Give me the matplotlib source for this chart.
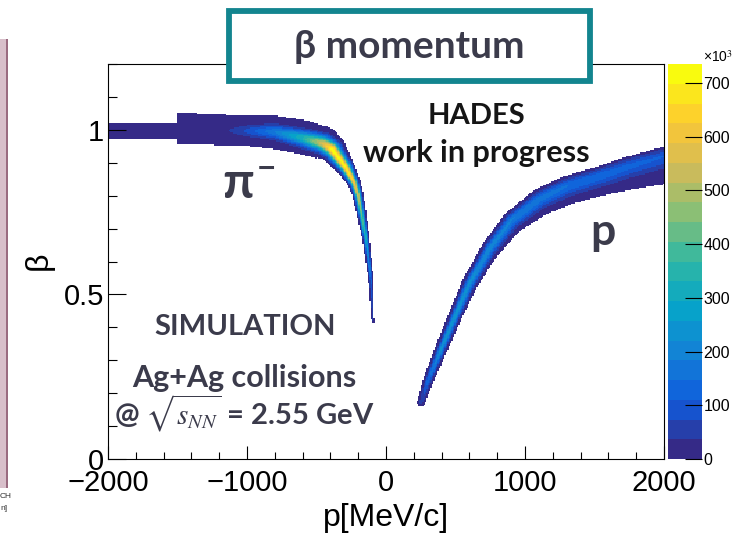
import numpy as np
import matplotlib.pyplot as plt
from matplotlib.colors import LinearSegmentedColormap, ListedColormap, BoundaryNorm
from matplotlib.patches import Rectangle

# ---- values ----
# p in MeV/c, beta, counts in units of 10^3
# pi- band, thin piece at large |p|
pim_tail_p = [-2000, -1500]
pim_tail_beta = [0.997, 0.997]
pim_tail_up = [0.024, 0.024]
pim_tail_down = [0.024, 0.024]
pim_tail_sig = [0.010, 0.010]
pim_tail_amp = [0, 0]

# pi- band, main piece
pim_p = [-1500, -1300, -1100, -1000, -800, -600, -450, -390, -290, -230, -200, -144, -108, -94]
pim_beta = [1.003, 1.001, 0.998, 0.997, 0.994, 0.975, 0.958, 0.942, 0.886, 0.841, 0.800, 0.668, 0.546, 0.415]
pim_up = [0.049, 0.048, 0.047, 0.046, 0.049, 0.055, 0.053, 0.045, 0.028, 0.020, 0.017, 0.011, 0.008, 0.004]
pim_down = [0.046, 0.046, 0.046, 0.046, 0.052, 0.049, 0.049, 0.040, 0.029, 0.020, 0.017, 0.011, 0.008, 0.004]
pim_sig = [0.012, 0.012, 0.012, 0.013, 0.014, 0.015, 0.015, 0.014, 0.010, 0.007, 0.006, 0.004, 0.003, 0.002]
pim_amp = [0, 0, 40, 80, 180, 330, 560, 720, 700, 620, 520, 300, 120, 30]

# proton band
prot_p = [252, 297, 394, 496, 602, 741, 900, 1100, 1300, 1532, 1750, 2000]
prot_beta = [0.171, 0.231, 0.332, 0.434, 0.536, 0.637, 0.725, 0.790, 0.830, 0.860, 0.890, 0.920]
prot_up = [0.012, 0.016, 0.019, 0.021, 0.023, 0.025, 0.027, 0.030, 0.030, 0.029, 0.029, 0.029]
prot_down = [0.012, 0.016, 0.019, 0.022, 0.026, 0.032, 0.042, 0.052, 0.057, 0.061, 0.072, 0.085]
prot_sig_up = [0.006, 0.006, 0.006, 0.007, 0.008, 0.009, 0.011, 0.012, 0.013, 0.013, 0.014, 0.014]
prot_sig_down = [0.006, 0.006, 0.007, 0.008, 0.010, 0.012, 0.015, 0.018, 0.020, 0.021, 0.022, 0.024]
prot_amp = [40, 120, 230, 240, 225, 205, 185, 165, 145, 130, 118, 108]

cbar_ticks = [0, 100, 200, 300, 400, 500, 600, 700]
z_max = 735
n_levels = 20

# ROOT kBird palette stops
bird_r = [0.2082, 0.0592, 0.0780, 0.0232, 0.1802, 0.5301, 0.8186, 0.9956, 0.9764]
bird_g = [0.1664, 0.3599, 0.5041, 0.6419, 0.7178, 0.7492, 0.7328, 0.7862, 0.9832]
bird_b = [0.5293, 0.8684, 0.8385, 0.7914, 0.6425, 0.4662, 0.3499, 0.1968, 0.0539]

# ---- layout ----
W, H = 740, 535
ax_box = [108, 64, 556, 395]  # left, top, width, height in px
P_MIN, P_MAX, B_MIN, B_MAX = -2000, 2000, 0.0, 1.2
kx = ax_box[2] / (P_MAX - P_MIN)
ky = ax_box[3] / (B_MAX - B_MIN)
PED = 3.0


def band(pp, bb, rp, rb, up, down, sig_up, sig_down, amp, round_start=True, round_end=True):
    X = (pp - P_MIN) * kx
    Y = bb * ky
    rx = (np.array(rp) - P_MIN) * kx
    ry = np.array(rb) * ky
    n = len(rx)
    best = np.full(X.shape, np.inf)
    bi = np.zeros(X.shape, dtype=int)
    bt = np.zeros(X.shape)
    bside = np.zeros(X.shape, dtype=bool)
    for i in range(n - 1):
        dx, dy = rx[i + 1] - rx[i], ry[i + 1] - ry[i]
        t = ((X - rx[i]) * dx + (Y - ry[i]) * dy) / (dx * dx + dy * dy)
        tc = np.clip(t, 0, 1)
        d = np.hypot(X - rx[i] - tc * dx, Y - ry[i] - tc * dy)
        if i == 0 and not round_start:
            d = np.where(t < 0, np.inf, d)
        if i == n - 2 and not round_end:
            d = np.where(t > 1, np.inf, d)
        side = dx * (Y - ry[i]) - dy * (X - rx[i]) >= 0
        m = d < best
        best[m] = d[m]
        bi[m] = i
        bt[m] = tc[m]
        bside[m] = side[m]

    def along(arr, scale=1.0):
        a = np.array(arr, dtype=float) * scale
        return a[bi] + bt * (a[bi + 1] - a[bi])

    w = np.where(bside, along(up, ky), along(down, ky))
    s = np.where(bside, along(sig_up, ky), along(sig_down, ky))
    a = along(amp)
    return np.where(best <= w, PED + a * np.exp(-0.5 * (best / s) ** 2), 0.0)


p_edges = np.linspace(P_MIN, P_MAX, 401)
b_edges = np.linspace(B_MIN, B_MAX, 301)
pc, bc = np.meshgrid(0.5 * (p_edges[1:] + p_edges[:-1]), 0.5 * (b_edges[1:] + b_edges[:-1]))

z = band(pc, bc, pim_tail_p, pim_tail_beta, pim_tail_up, pim_tail_down,
         pim_tail_sig, pim_tail_sig, pim_tail_amp, False, False)
z = np.maximum(z, band(pc, bc, pim_p, pim_beta, pim_up, pim_down,
                       pim_sig, pim_sig, pim_amp, False, True))
z = np.maximum(z, band(pc, bc, prot_p, prot_beta, prot_up, prot_down,
                       prot_sig_up, prot_sig_down, prot_amp, True, True))
z = np.ma.masked_less_equal(np.minimum(z, z_max - 1), 0)

bird = LinearSegmentedColormap.from_list(
    'bird', list(zip(np.linspace(0, 1, 9), zip(bird_r, bird_g, bird_b))))
cmap = ListedColormap([bird(i / (n_levels - 1)) for i in range(n_levels)])
cmap.set_bad('white')
norm = BoundaryNorm(np.linspace(0, z_max, n_levels + 1), n_levels)

plt.rcParams['font.family'] = ['Liberation Sans', 'DejaVu Sans']
plt.rcParams['mathtext.fontset'] = 'stix'

fig = plt.figure(figsize=(W / 100, H / 100), dpi=100)


def fbox(l, t, w, h):
    return [l / W, 1 - (t + h) / H, w / W, h / H]


ax = fig.add_axes(fbox(*ax_box))
mesh = ax.pcolormesh(p_edges, b_edges, z, cmap=cmap, norm=norm, shading='flat', rasterized=True)
ax.set_xlim(P_MIN, P_MAX)
ax.set_ylim(B_MIN, B_MAX)
ax.set_xticks([-2000, -1000, 0, 1000, 2000])
ax.set_xticks(np.arange(-2000, 2001, 200), minor=True)
ax.set_yticks([0, 0.5, 1])
ax.set_yticklabels(['0', '0.5', '1'])
ax.set_yticks(np.arange(0, 1.21, 0.1), minor=True)
ax.tick_params(axis='x', which='major', direction='in', length=9.5, width=0.8, labelsize=21, pad=7.5)
ax.tick_params(axis='x', which='minor', direction='in', length=5, width=0.8)
ax.tick_params(axis='y', which='major', direction='in', length=13, width=0.8, labelsize=21, pad=3)
ax.tick_params(axis='y', which='minor', direction='in', length=6.5, width=0.8)
for sp in ax.spines.values():
    sp.set_linewidth(0.8)

fig.text(386 / W, 1 - 518 / H, 'p[MeV/c]', fontsize=23, ha='center', va='center')
fig.text(39 / W, 1 - 261 / H, 'β', fontsize=23, ha='center', va='center', rotation=90)

# palette
cax = fig.add_axes(fbox(668, 64, 34, 395))
cb = fig.colorbar(mesh, cax=cax, ticks=cbar_ticks)
cb.outline.set_visible(False)
cax.tick_params(direction='in', length=12, width=0.8, labelsize=11.5, pad=1)
cax.minorticks_off()
fig.text(703 / W, 1 - 57 / H, '×10$^{3}$', fontsize=10, ha='left', va='center')

# slide decorations
slide_font = ['Lato', 'DejaVu Sans']
dark = '#3b3b4b'
fig.patches.append(Rectangle((0, 1 - 488 / H), 7 / W, 449 / H, transform=fig.transFigure,
                             facecolor='#d8bfca', edgecolor='none'))
fig.patches.append(Rectangle((6 / W, 1 - 488 / H), 2 / W, 449 / H, transform=fig.transFigure,
                             facecolor='#9a6b80', edgecolor='none'))
fig.text(0, 1 - 497 / H, 'CH', fontsize=6, ha='left', va='center', color='#333333')
fig.text(0, 1 - 508 / H, 'n]', fontsize=6, ha='left', va='center', color='#333333')

fig.patches.append(Rectangle((229 / W, 1 - 80.5 / H), 361 / W, 69.5 / H, transform=fig.transFigure,
                             facecolor='white', edgecolor='#13858f', linewidth=4.2, zorder=5))
fig.text(409 / W, 1 - 46 / H, 'β momentum', fontsize=28, fontweight='bold', family=slide_font,
         color=dark, ha='center', va='center', zorder=6)

fig.text(476 / W, 1 - 116 / H, 'HADES', fontsize=21, fontweight='bold', family=slide_font,
         color='#151515', ha='center', va='center')
fig.text(476 / W, 1 - 153 / H, 'work in progress', fontsize=22, fontweight='bold', family=slide_font,
         color='#151515', ha='center', va='center')
fig.text(238 / W, 1 - 184 / H, 'π', fontsize=36, fontweight='bold', family=slide_font,
         color=dark, ha='center', va='center')
fig.text(266 / W, 1 - 169 / H, '−', fontsize=24, fontweight='bold', family=slide_font,
         color=dark, ha='center', va='center')
fig.text(603 / W, 1 - 232 / H, 'p', fontsize=32, fontweight='bold', family=slide_font,
         color=dark, ha='center', va='center')
fig.text(245 / W, 1 - 327 / H, 'SIMULATION', fontsize=21, fontweight='bold', family=slide_font,
         color=dark, ha='center', va='center')
fig.text(244 / W, 1 - 378 / H, 'Ag+Ag collisions', fontsize=22, fontweight='bold', family=slide_font,
         color=dark, ha='center', va='center')
fig.text(244 / W, 1 - 413 / H, r'@ $\sqrt{s_{NN}}$ = 2.55 GeV', fontsize=21, fontweight='bold',
         family=slide_font, color=dark, ha='center', va='center')

fig.savefig('out.png', dpi=100)
